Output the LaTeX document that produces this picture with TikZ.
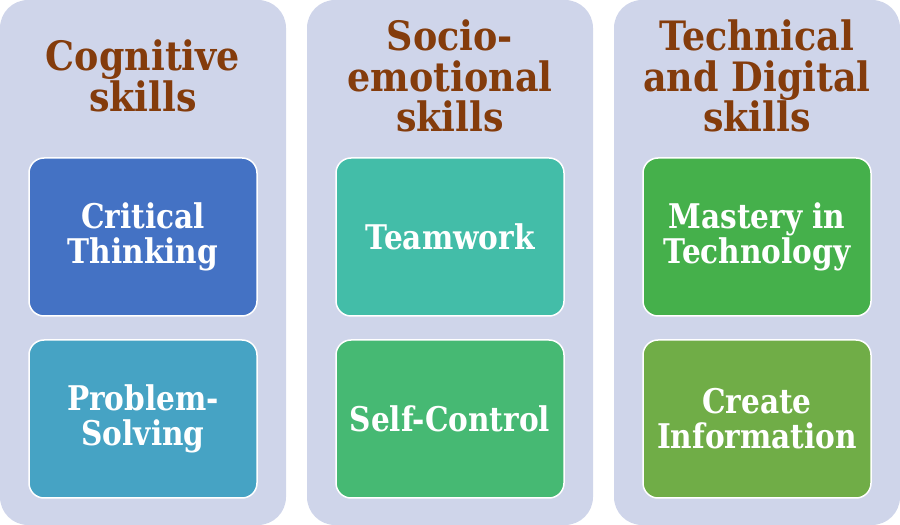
\documentclass[tikz,border=0pt]{standalone}
\usepackage{fontspec}
\setmainfont{DejaVu Serif}[FakeStretch=0.87]
\newfontfamily\ttlfam{DejaVu Serif}[FakeStretch=0.9]
\definecolor{bgpanel}{HTML}{CFD5EA}
\definecolor{titlebrown}{HTML}{843C0C}
\definecolor{cA}{HTML}{4472C4}
\definecolor{cB}{HTML}{46A3C4}
\definecolor{cC}{HTML}{43BDA8}
\definecolor{cD}{HTML}{46B973}
\definecolor{cE}{HTML}{45B04B}
\definecolor{cF}{HTML}{70AD47}
\newcommand\ttlfont{\ttlfam\bfseries\fontsize{40.5}{40.5}\selectfont}
\newcommand\itmfont{\bfseries\fontsize{34}{35}\selectfont}
\begin{document}
\begin{tikzpicture}[x=1pt,y=1pt,
  panel/.style={fill=bgpanel, draw=none, rounded corners=28pt, minimum width=286pt, minimum height=525pt, inner sep=0pt},
  item/.style={draw=white, line width=1.5pt, rounded corners=15pt, minimum width=228pt, minimum height=158pt, inner sep=0pt, align=center, text=white, font=\itmfont},
  heading/.style={align=center, text=titlebrown, font=\ttlfont, inner sep=0pt}]
\useasboundingbox (0,0) rectangle (900,525);
\node[panel] (p1) at (143,262.5) {};
\node[panel] (p2) at (450,262.5) {};
\node[panel] (p3) at (757,262.5) {};
\node[heading] (t1) at (143,449) {Cognitive\\skills};
\node[heading] (t2) at (450,449) {Socio-\\emotional\\skills};
\node[heading] (t3) at (757,449) {Technical\\and Digital\\skills};
\node[item, fill=cA] (a1) at (143,288) {Critical\\Thinking};
\node[item, fill=cB] (a2) at (143,106) {Problem-\\Solving};
\node[item, fill=cC] (b1) at (450,288) {Teamwork};
\node[item, fill=cD] (b2) at (450,106) {Self-Control};
\node[item, fill=cE] (c1) at (757,288) {Mastery in\\Technology};
\node[item, fill=cF] (c2) at (757,106) {Create\\Information};
\end{tikzpicture}
\end{document}
